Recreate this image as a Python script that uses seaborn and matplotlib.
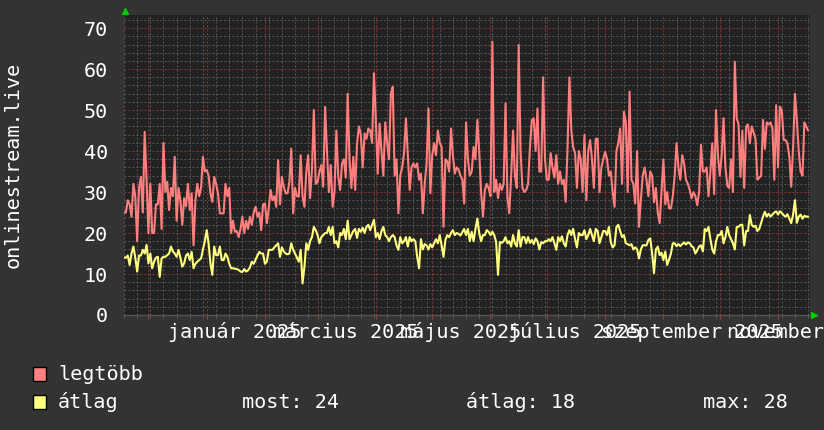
import numpy as np
import pandas as pd
import matplotlib
matplotlib.use("Agg")
import matplotlib.pyplot as plt
import matplotlib.dates as mdates
from matplotlib.patches import Rectangle
from matplotlib.ticker import MultipleLocator, NullFormatter
import seaborn as sns

# napi adatok 2024-11-18-tól
start_date = "2024-11-18"

legtobb = [
    25, 25, 28, 27, 24, 32, 29, 18, 31, 33.7,
    25, 44.7, 33, 20, 32, 20, 20, 27, 27, 32,
    21, 42, 30, 32.5, 25.6, 31, 29, 38.6, 23, 31,
    28, 22, 28.5, 26.5, 32, 25.6, 29.7, 17, 28, 32,
    29, 31, 38.6, 35, 35.4, 34, 29.7, 27.6, 33.7, 32,
    29.7, 24.8, 24.8, 24.8, 32, 29, 31, 20,
    23, 20.3, 20.5, 19, 21, 24, 20, 23, 21, 24,
    22, 25, 26.4, 24, 25, 20.7, 27, 27.2, 22.4, 26,
    30.5, 28, 29, 26.4, 37.8, 27, 33.7, 31.3, 29.7, 29.7,
    32.5, 40.6, 24.8, 31, 29, 28.9, 39, 28.9, 26.4, 35,
    39, 28.5, 35.4, 50, 32, 32.5, 35, 36.6, 31.3, 50.8,
    40, 30, 36.6, 26.4, 30, 45, 33.7, 30.5, 37, 38, 33.5,
    54, 38, 31, 38.6, 30.5, 41.9, 46, 44, 36, 44.3,
    43, 45.5, 45, 42, 59, 47.6, 34.5, 46.7, 40, 34,
    47, 42, 38, 54, 55.7, 34, 38, 24.8, 34, 36,
    39.5, 48, 39, 30.5, 36, 37, 36, 37, 33, 34.5,
    24.8, 32, 37, 50.4, 29.7, 39, 41.9, 39, 45, 42,
    41, 21.5, 38, 37.5, 35, 45.5, 39, 34.5, 36, 35.5, 34,
    33, 27.2, 47, 38, 34, 35, 41, 38, 47.6, 40,
    30, 24, 30.5, 32, 31, 29, 66.7, 30, 33, 28.5,
    32, 30.5, 32, 51.6, 29, 24.8, 34, 45, 34, 31,
    65.9, 40, 31, 30, 30.5, 32, 41, 47.6, 48, 40,
    50.4, 35, 35, 58, 38, 33, 33, 39.5, 36, 33.5,
    39, 32, 35, 32, 33, 27.6, 41, 58, 45, 41, 39.5,
    31, 40, 38, 30, 44, 28, 40, 42.7, 38, 31,
    43, 43, 30, 36, 38, 39.8, 38, 34, 35, 30,
    26.4, 40, 42, 45.5, 32, 49.6, 47, 30, 54.5, 33,
    32, 27.2, 40, 21.5, 28, 34, 36, 33, 29, 35,
    34, 27.5, 31, 25, 22.4, 30, 37.9, 27, 30, 26,
    26, 29, 34, 41.9, 36, 33, 39, 37, 33, 32, 30.5,
    28.5, 30, 29, 26.8, 30, 41.5, 35, 35, 36, 29,
    35, 41.9, 29.5, 50, 39, 34, 39, 48, 36, 31.5,
    31, 38, 30, 61.8, 48, 46.5, 33.7, 45, 31, 46,
    46.5, 41.9, 46, 44.5, 43, 33, 33.5, 34, 47.6, 40.5,
    47, 46.5, 47, 45.5, 33, 51.2, 36, 50.8, 50, 42.7,
    42.7, 41.9, 38.6, 31.3, 41, 54, 47.6, 40, 35, 34, 47, 46, 45,
]

atlag = [
    14, 14, 14.5, 12.2, 15, 16.7, 14, 10.6, 14.5, 14.5,
    15.9, 15, 17.1, 12.6, 15, 11.4, 13, 14, 14.2, 9.3,
    13.8, 14.2, 14.2, 14.6, 15, 16.7, 15.5, 15, 14.2, 15.9,
    14, 11.8, 12.6, 14.5, 15, 13.4, 15.4, 11.4, 12.5, 13,
    13.4, 13.8, 16, 18, 20.7, 17.5, 12.6, 9.8, 16.7, 14.6,
    14.6, 16.7, 13.4, 13.4, 15, 14.2, 12.5, 11.4,
    11.4, 11.3, 11.2, 11, 10.6, 10.5, 11.2, 10.6, 10.9, 11.6,
    13, 12.5, 13.5, 14.5, 15.4, 15, 15, 12.5, 13, 15.9,
    15.9, 15.9, 16.5, 17, 17.5, 14.2, 16.5, 15.5, 15, 14.8,
    15, 17.5, 15.9, 15, 14, 13, 15.9, 7.7, 11.8, 17.5,
    15.9, 18, 19, 21.5, 20.7, 19.5, 17.5, 19, 19.5, 20,
    20, 21.5, 19.5, 21.5, 17.5, 18, 16.5, 20, 19.5, 21, 18.5,
    23, 18.5, 19.5, 20.5, 21, 18.8, 21, 20.3, 21.3, 20,
    21.5, 22, 20.7, 22, 23.2, 19, 20, 18.5, 20.5, 21.5,
    19.5, 19, 18, 19, 19.5, 19, 17, 15.9, 19, 17.5,
    18, 19, 16.7, 19, 18, 18.5, 18, 14.2, 11.4, 18.5,
    16, 17.3, 17, 16, 17.3, 16.5, 17.5, 18.5, 17.5, 19.5,
    17, 14.2, 18.3, 19.5, 19, 20, 20.7, 19.5, 20, 19.8, 19.4,
    20.2, 21, 19.5, 21, 18, 20.3, 18, 21, 23.5, 20,
    18, 19.5, 19.5, 20.7, 20.3, 19.5, 20.3, 19.5, 17.8, 9.8,
    17.8, 17.6, 18, 19, 17.5, 18, 16.7, 19.5, 17.5, 16.7,
    20.7, 16.7, 19, 19, 17.5, 19, 17.6, 18.3, 17.3, 18.7,
    18, 16, 17.8, 17.5, 18, 18, 18.5, 18, 19, 17.5,
    15.9, 19, 18, 19.2, 17.5, 16.7, 19.5, 20.7, 19.5, 21, 18.5,
    16.5, 20, 19.5, 19.5, 20.7, 18.5, 19.5, 21, 19.5, 18,
    21, 20.5, 17.5, 19, 20.5, 20.5, 19.5, 21.5, 17.8, 16.5,
    17, 21.5, 22, 20.5, 19, 19.5, 17.5, 17.3, 17, 17.3,
    16, 16.5, 16, 13.8, 16, 17, 17, 17, 18.3, 18.7,
    15, 10.2, 16, 16.7, 14.6, 15.2, 13.4, 15.5, 12.2, 13.5,
    15, 17.5, 17.5, 16.8, 17.3, 16.8, 17.3, 17.7, 17.2, 17.7, 17.5,
    16.8, 16.5, 15, 15.8, 16.7, 17, 15.5, 21, 20.5, 21.5,
    18.5, 16, 15, 18, 19.5, 19.5, 20.5, 17.5, 19, 21.5,
    19.5, 18.5, 17.5, 16, 21.5, 21.5, 22, 22, 17, 20.5,
    20.5, 24.4, 22, 21.5, 21.8, 20.5, 21, 22.5, 24, 25.2,
    24, 24.7, 24, 24.5, 25, 25.3, 24.5, 25.3, 24.9, 24.3,
    24, 24.6, 23.5, 22.4, 24.5, 28, 22.5, 24, 24.5, 23.5, 24.2, 24, 24,
]

honap_cimkek = ["január 2025", "március 2025", "május 2025",
                "július 2025", "szeptember 2025", "november 2025"]
cimke_datumok = ["2025-01-16", "2025-03-16", "2025-05-16",
                 "2025-07-16", "2025-09-16", "2025-11-16"]

sorok = ["legtöbb", "átlag"]
szinek = ["#ff7f7f", "#ffff7f"]
statok = ["most: 24", "átlag: 18", "max: 28"]

napok = pd.date_range(start_date, periods=len(legtobb), freq="D")
df = pd.DataFrame({"nap": napok, "legtöbb": legtobb, "átlag": atlag})

sns.set_style("dark")
plt.rcParams['font.family'] = ['DejaVu Sans Mono']
fs = 14.5

fig = plt.figure(figsize=(8.24, 4.30), dpi=100, facecolor="#333333")
ax = fig.add_axes([124/824, 115/430, 686/824, 300/430])
ax.set_facecolor("#222222")

for nev, szin in zip(sorok, szinek):
    sns.lineplot(data=df, x="nap", y=nev, ax=ax, color=szin, linewidth=1.5)

x0 = pd.Timestamp(start_date)
ax.set_xlim(x0, x0 + pd.Timedelta(days=365))
ax.set_ylim(0, 73.2)

# rács
ax.xaxis.set_major_locator(mdates.MonthLocator())
ax.xaxis.set_minor_locator(mdates.WeekdayLocator(byweekday=mdates.MO))
ax.xaxis.set_major_formatter(NullFormatter())
ax.xaxis.set_minor_formatter(NullFormatter())
ax.yaxis.set_major_locator(MultipleLocator(10))
ax.yaxis.set_minor_locator(MultipleLocator(2))
ax.grid(which="minor", color="#575757", linestyle=(0, (2, 2)), linewidth=0.72)
ax.grid(which="major", color="#8c3535", linestyle=(0, (2, 2)), linewidth=0.72)
ax.set_axisbelow(True)

ax.tick_params(axis="x", which="major", length=3, color="#a04040", bottom=True)
ax.tick_params(axis="x", which="minor", length=2, color="#666666", bottom=True)
ax.tick_params(axis="y", which="both", length=0, pad=11.5, labelsize=fs, labelcolor="white")
ax.set_xlabel("")
ax.set_ylabel("")

for s in ["top", "right", "left"]:
    ax.spines[s].set_visible(False)
ax.spines["bottom"].set_color("#555555")
ax.spines["bottom"].set_linewidth(1)

for cimke, d in zip(honap_cimkek, cimke_datumok):
    ax.text(mdates.date2num(pd.Timestamp(d)), -17/300, cimke, transform=ax.get_xaxis_transform(),
            ha="center", va="center", color="white", fontsize=fs)

# nyilak
ax.plot([0.0015], [1.015], marker="^", color="#00cc00", markersize=5, transform=ax.transAxes, clip_on=False)
ax.plot([1.006], [0.0], marker=">", color="#00cc00", markersize=5, transform=ax.transAxes, clip_on=False)

fig.text(13/824, 1 - 165/430, "onlinestream.live", rotation=90, ha="center", va="center",
         color="white", fontsize=fs)

# jelmagyarázat
for i, (nev, szin) in enumerate(zip(sorok, szinek)):
    yc = 374 + 28*i
    fig.patches.append(Rectangle((33/824, 1 - (yc + 7)/430), 13/824, 14/430, transform=fig.transFigure,
                                 facecolor=szin, edgecolor="black", linewidth=1))
    fig.text(58/824, 1 - yc/430, nev, ha="left", va="center", color="white", fontsize=fs)

for t, xp in zip(statok, [242, 466, 703]):
    fig.text(xp/824, 1 - 402/430, t, ha="left", va="center", color="white", fontsize=fs)

fig.savefig("out.png", dpi=100, facecolor=fig.get_facecolor())
